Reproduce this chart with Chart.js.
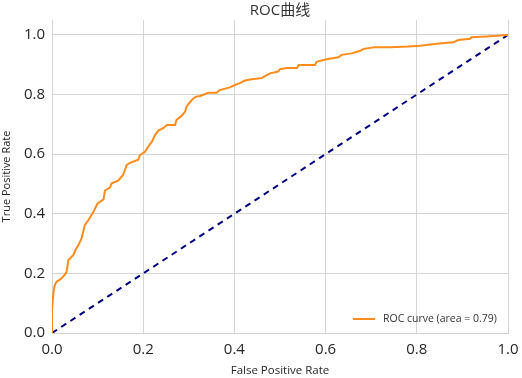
<!DOCTYPE html>
<html>
<head>
<meta charset="utf-8">
<script src="https://cdn.jsdelivr.net/npm/chart.js@4/dist/chart.umd.min.js"></script>
<style>
  html, body { margin: 0; padding: 0; background: #ffffff; }
  #wrap { width: 522px; height: 378px; position: relative; }
</style>
</head>
<body>
<div id="wrap"><canvas id="c" width="522" height="378"></canvas></div>
<script>
// ---- data ----
const chartTitle = "ROC曲线";
const xTitle = "False Positive Rate";
const yTitle = "True Positive Rate";
const rocLabel = "ROC curve (area = 0.79)";
const tickValues = [0, 0.2, 0.4, 0.6, 0.8, 1.0];

const fpr = [0, 0, 0.003, 0.006, 0.010, 0.018, 0.025, 0.030, 0.032, 0.036, 0.047, 0.052, 0.058, 0.065,
  0.072, 0.080, 0.091, 0.100, 0.113, 0.116, 0.127, 0.131, 0.145, 0.156, 0.164, 0.171, 0.189, 0.193,
  0.204, 0.211, 0.219, 0.226, 0.233, 0.244, 0.252, 0.270, 0.273, 0.284, 0.292, 0.295, 0.303, 0.310,
  0.316, 0.325, 0.343, 0.361, 0.368, 0.390, 0.401, 0.412, 0.423, 0.438, 0.460, 0.467, 0.478, 0.496,
  0.500, 0.515, 0.537, 0.541, 0.577, 0.580, 0.602, 0.628, 0.635, 0.657, 0.675, 0.683, 0.708, 0.741,
  0.781, 0.807, 0.844, 0.880, 0.891, 0.917, 0.920, 0.953, 0.975, 0.997, 1.0];
const tpr = [0, 0.077, 0.134, 0.160, 0.172, 0.180, 0.190, 0.200, 0.206, 0.245, 0.262, 0.280, 0.295, 0.318,
  0.362, 0.379, 0.407, 0.435, 0.448, 0.478, 0.488, 0.502, 0.511, 0.530, 0.564, 0.571, 0.581, 0.597,
  0.608, 0.625, 0.642, 0.664, 0.679, 0.687, 0.698, 0.698, 0.715, 0.728, 0.743, 0.759, 0.775, 0.787,
  0.793, 0.795, 0.806, 0.806, 0.815, 0.824, 0.832, 0.838, 0.847, 0.851, 0.855, 0.862, 0.871, 0.877,
  0.885, 0.889, 0.889, 0.899, 0.899, 0.910, 0.918, 0.925, 0.933, 0.938, 0.946, 0.953, 0.959, 0.959,
  0.961, 0.964, 0.970, 0.975, 0.983, 0.987, 0.992, 0.995, 0.997, 1.0, 1.0];
const diagX = [0, 1];
const diagY = [0, 1];

const FONT = '"Open Sans", "Noto Sans CJK SC", sans-serif';
const GRID = '#d4d4d4';

// title centred over the plot area (as in the reference) + legend inside the plot
const annotPlugin = {
  id: 'innerLegendAndTitle',
  afterDraw(chart) {
    const ctx = chart.ctx;
    const area = chart.chartArea;
    const ds = chart.data.datasets[0];
    ctx.save();
    // title
    ctx.fillStyle = '#333333';
    ctx.font = '15px ' + FONT;
    ctx.textAlign = 'center';
    ctx.textBaseline = 'middle';
    ctx.fillText(chartTitle, (area.left + area.right) / 2, 11);
    // legend
    const x0 = 353, y0 = 319;
    ctx.strokeStyle = ds.borderColor;
    ctx.lineWidth = 2;
    ctx.beginPath();
    ctx.moveTo(x0, y0);
    ctx.lineTo(x0 + 22, y0);
    ctx.stroke();
    ctx.fillStyle = '#333333';
    ctx.font = '10.5px ' + FONT;
    ctx.textBaseline = 'middle';
    ctx.textAlign = 'left';
    ctx.fillText(ds.label, x0 + 30, y0);
    ctx.restore();
  }
};

new Chart(document.getElementById('c'), {
  type: 'scatter',
  data: {
    datasets: [
      {
        label: rocLabel,
        data: fpr.map((x, i) => ({ x: x, y: tpr[i] })),
        showLine: true,
        borderColor: '#ff8c1a',
        borderWidth: 2,
        pointRadius: 0,
        fill: false,
        tension: 0
      },
      {
        label: 'diag',
        data: diagX.map((x, i) => ({ x: x, y: diagY[i] })),
        showLine: true,
        borderColor: '#000080',
        borderWidth: 2,
        borderDash: [6, 5],
        pointRadius: 0,
        fill: false
      }
    ]
  },
  options: {
    responsive: false,
    animation: false,
    layout: { padding: { left: 0, right: 14, top: 20, bottom: 0 } },
    plugins: {
      legend: { display: false },
      tooltip: { enabled: false },
      title: { display: false }
    },
    scales: {
      x: {
        type: 'linear',
        min: 0, max: 1,
        afterBuildTicks: (s) => { s.ticks = tickValues.map(v => ({ value: v })); },
        afterFit: (s) => { s.height = 45; s.paddingRight = 0; s.paddingLeft = 0; },
        grid: { color: GRID, lineWidth: 1, drawTicks: false },
        border: { color: GRID },
        ticks: {
          color: '#262626',
          font: { family: FONT, size: 15 },
          padding: 8,
          maxRotation: 0,
          callback: (v) => Number(v).toFixed(1)
        },
        title: {
          display: true,
          text: xTitle,
          color: '#262626',
          font: { family: FONT, size: 11.5 },
          padding: { top: 1, bottom: 0 }
        }
      },
      y: {
        type: 'linear',
        min: 0, max: 1.05,
        afterBuildTicks: (s) => { s.ticks = tickValues.map(v => ({ value: v })); },
        afterFit: (s) => { s.width = 52; s.paddingTop = 0; s.paddingBottom = 0; },
        grid: { color: GRID, lineWidth: 1, drawTicks: false },
        border: { color: GRID },
        ticks: {
          color: '#262626',
          font: { family: FONT, size: 15 },
          padding: 7,
          callback: (v) => Number(v).toFixed(1)
        },
        title: {
          display: true,
          text: yTitle,
          color: '#262626',
          font: { family: FONT, size: 11 },
          padding: { top: 0, bottom: 0 }
        }
      }
    }
  },
  plugins: [annotPlugin]
});
</script>
</body>
</html>
